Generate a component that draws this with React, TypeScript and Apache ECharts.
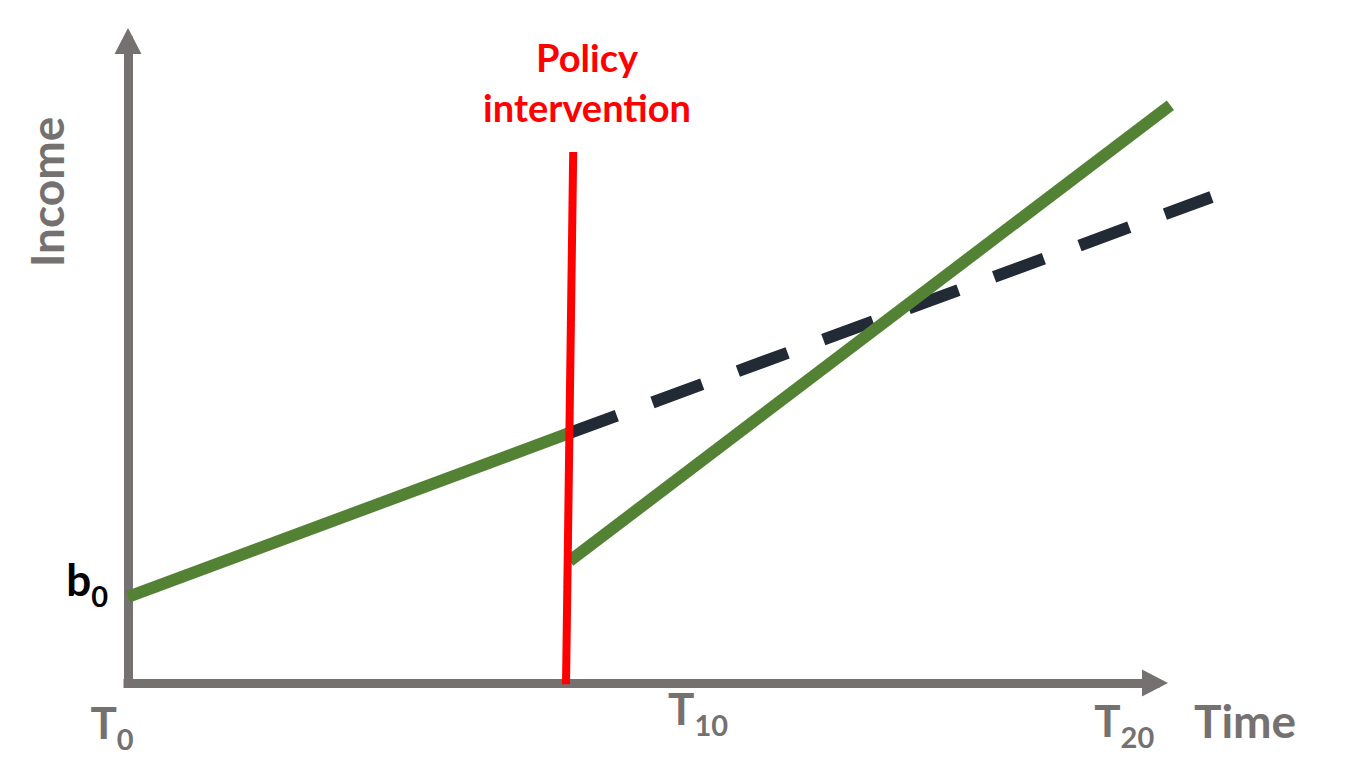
import { useEffect, useRef } from "react";
import * as echarts from "echarts";

// Conceptual plot: income over time, with and without a policy intervention.
// x: time (T0 = 0 ... T20 = 20), y: income (arbitrary units, 0..100)

const incomeBefore: [number, number][] = [
  [0, 13.4],
  [8.55, 38.8],
];
const incomeAfter: [number, number][] = [
  [8.6, 19.0],
  [20.3, 90.0],
];
const counterfactual: [number, number][] = [
  [8.55, 38.8],
  [21.1, 75.7],
];
const interventionLine: [number, number][] = [
  [8.53, -0.2],
  [8.67, 82.7],
];

const interceptValue = 13.4;
const interceptLabel = ["b", "0"];

const timeTicks = [
  ["T", "0"],
  ["T", "10"],
  ["T", "20"],
];
const timeTickAt: [number, number][] = [
  [-0.31, -6.0],
  [11.1, -3.9],
  [19.4, -5.7],
];

const interventionText = "Policy\nintervention";
const interventionTextAt: [number, number] = [8.94, 93.6];

// the drawn axes stop at T20 / income 100; the lines run on past the arrow
const AXIS_MAX_X = 20;
const PLOT_MAX_X = 22;

const GRAY = "#767171";
const GREEN = "#548235";
const NAVY = "#222A35";
const RED = "#FF0000";
const FONT = "Lato";

const subRich = (color: string) => ({
  big: {
    fontFamily: FONT,
    fontSize: 44,
    fontWeight: "bold",
    lineHeight: 44,
    verticalAlign: "top",
    color,
  },
  sub: {
    fontFamily: FONT,
    fontSize: 29,
    fontWeight: "bold",
    lineHeight: 29,
    padding: [24, 0, 0, 0],
    verticalAlign: "top",
    color,
  },
});

export default function App() {
  const chartRef = useRef<HTMLDivElement>(null);

  useEffect(() => {
    if (!chartRef.current) return;
    const chart = echarts.init(chartRef.current, undefined, { renderer: "svg" });

    const left = 128;
    const axisRight = 1155;
    const plotRight = left + ((axisRight - left) * PLOT_MAX_X) / AXIS_MAX_X;

    const axisLine = {
      show: true,
      onZero: false,
      symbol: ["none", "triangle"],
      symbolSize: [27, 26],
      lineStyle: { color: GRAY, width: 9, cap: "square" },
    };

    const lineSeries = (name: string, data: [number, number][], color: string, width: number, z: number, type: any = "solid") => ({
      name,
      type: "line",
      xAxisIndex: 1,
      yAxisIndex: 1,
      data,
      symbol: "none",
      clip: false,
      z,
      lineStyle: { color, width, type, cap: "butt" },
    });

    chart.setOption({
      animation: false,
      grid: [
        { left, right: 1364 - axisRight, top: 41, bottom: 100, containLabel: false, outerBoundsMode: "none" },
        { left, right: 1364 - plotRight, top: 41, bottom: 100, containLabel: false, outerBoundsMode: "none" },
      ],
      xAxis: [
        {
          type: "value",
          gridIndex: 0,
          min: 0,
          max: AXIS_MAX_X,
          axisLine,
          axisTick: { show: false },
          axisLabel: { show: false },
          splitLine: { show: false },
          name: "Time",
          nameLocation: "end",
          nameGap: 39,
          nameTextStyle: {
            fontFamily: FONT,
            fontSize: 46,
            fontWeight: "bold",
            lineHeight: 46,
            color: GRAY,
            verticalAlign: "top",
            padding: [14, 0, 0, 0],
          },
        },
        { type: "value", gridIndex: 1, min: 0, max: PLOT_MAX_X, show: false },
      ],
      yAxis: [
        {
          type: "value",
          gridIndex: 0,
          min: 0,
          max: 100,
          axisLine,
          axisTick: { show: false },
          splitLine: { show: false },
          axisLabel: {
            customValues: [interceptValue],
            margin: 20,
            padding: [0, 0, 36, 0],
            formatter: () => `{big|${interceptLabel[0]}}{sub|${interceptLabel[1]}}`,
            rich: subRich("#000000"),
          },
        },
        { type: "value", gridIndex: 1, min: 0, max: 100, show: false },
      ],
      graphic: [
        {
          type: "text",
          x: 46,
          y: 192,
          rotation: Math.PI / 2,
          style: {
            text: "Income",
            fontFamily: FONT,
            fontSize: 46,
            fontWeight: "bold",
            fill: GRAY,
            align: "center",
            verticalAlign: "middle",
          },
        },
      ],
      series: [
        lineSeries("Counterfactual", counterfactual, NAVY, 12, 2, [53, 38]),
        lineSeries("Before", incomeBefore, GREEN, 12, 3),
        lineSeries("After", incomeAfter, GREEN, 12, 3),
        lineSeries("Intervention", interventionLine, RED, 8, 4),
        {
          name: "Labels",
          type: "scatter",
          xAxisIndex: 0,
          yAxisIndex: 0,
          symbolSize: 0,
          clip: false,
          z: 5,
          silent: true,
          itemStyle: { opacity: 1 },
          data: [
            ...timeTicks.map((tk, i) => ({
              value: timeTickAt[i],
              label: {
                show: true,
                position: "inside",
                color: GRAY,
                opacity: 1,
                textBorderWidth: 0,
                formatter: `{big|${tk[0]}}{sub|${tk[1]}}`,
                rich: subRich(GRAY),
              },
            })),
            {
              value: interventionTextAt,
              label: {
                show: true,
                position: "inside",
                formatter: interventionText,
                fontFamily: FONT,
                fontSize: 38,
                fontWeight: "bold",
                lineHeight: 50,
                color: RED,
                opacity: 1,
                textBorderWidth: 0,
                align: "center",
              },
            },
          ],
        },
      ],
    });

    return () => chart.dispose();
  }, []);

  return (
    <div
      ref={chartRef}
      style={{ position: "absolute", left: 0, top: 0, width: 1364, height: 783, background: "#fff" }}
    />
  );
}
